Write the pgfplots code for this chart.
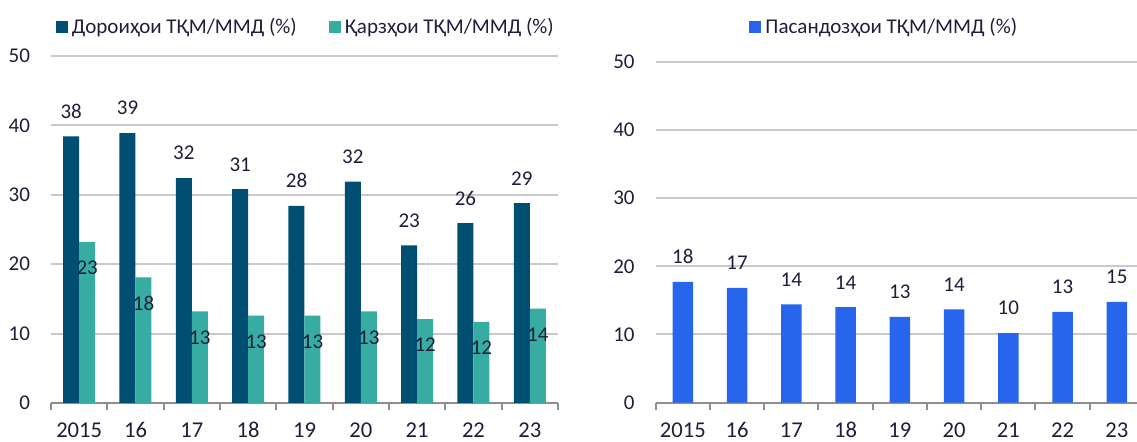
\documentclass[border=0pt]{standalone}
\usepackage{fontspec}
\setmainfont{Carlito}
\usepackage{pgfplots}
\pgfplotsset{compat=1.18}

\definecolor{cDor}{HTML}{004F72}
\definecolor{cQar}{HTML}{37ACA2}
\definecolor{cPas}{HTML}{2766EC}
\definecolor{cTxt}{HTML}{1E1E3C}
\definecolor{cGrid}{HTML}{C9C9C9}
\definecolor{cAx}{HTML}{8E8E8E}

\pgfplotsset{
  /pgf/number format/assume math mode=true,
  sq/.style={legend image code/.code={\fill[##1] (0pt,-3pt) rectangle (6pt,3pt);}},
  base/.style={
    scale only axis, ybar, ymin=0, ymax=50, ytick={0,10,...,50},
    xmin=-0.5, xtick={0,...,8}, xticklabels={2015,16,17,18,19,20,21,22,23},
    minor xtick={-0.5,0.5,...,8.5},
    axis x line*=bottom, axis y line*=left,
    y axis line style={draw=none},
    x axis line style={cAx, line width=1pt},
    major tick length=0pt, minor tick length=3.5pt, tick align=outside,
    minor tick style={cAx, line width=1pt},
    ymajorgrids, major grid style={cGrid, line width=1pt},
    yticklabel style={font=\fontsize{10.5}{12}\selectfont, text=cTxt, xshift=-7pt},
    xticklabel style={font=\fontsize{11.3}{13}\selectfont, text=cTxt, anchor=base, inner sep=0pt, yshift=-17.5pt},
    nodes near coords={\pgfmathprintnumber[fixed,precision=0]{\pgfplotspointmeta}},
    every node near coord/.append style={font=\fontsize{10.5}{12}\selectfont, text=cTxt},
    legend style={draw=none, fill=none, inner sep=0pt, font=\fontsize{10.5}{12}\selectfont, text=cTxt},
    legend cell align=left,
  }
}

\begin{document}
\begin{tikzpicture}
\useasboundingbox (0,0) rectangle (568.5pt,-221pt);

% left panel
\begin{axis}[
  base, at={(25.5pt,-201.5pt)}, anchor=south west,
  width=253.5pt, height=173.5pt, xmax=8.5,
  bar width=8pt, ybar=0pt,
  legend columns=2,
  legend style={at={(0.009,1)}, anchor=west, yshift=14.5pt,
    /tikz/every even column/.append style={column sep=14pt}},
]
\addplot[fill=cDor, draw=none, sq, every node near coord/.append style={anchor=south, yshift=5.5pt}]
  coordinates {(0,38.4) (1,38.9) (2,32.4) (3,30.8) (4,28.4) (5,31.9) (6,22.7) (7,25.9) (8,28.8)};
\addlegendentry{Дороиҳои ТҚМ/ММД (\%)}
\addplot[fill=cQar, draw=none, sq, every node near coord/.append style={anchor=north, yshift=-6pt}]
  coordinates {(0,23.2) (1,18.1) (2,13.2) (3,12.6) (4,12.6) (5,13.2) (6,12.1) (7,11.7) (8,13.6)};
\addlegendentry{Қарзҳои ТҚМ/ММД (\%)}
\end{axis}

% right panel
\begin{axis}[
  base, at={(327.85pt,-201.35pt)}, anchor=south west,
  width=240.65pt, height=170.5pt, xmax=8.372,
  bar width=10.3pt,
  legend style={at={(0.194,1)}, anchor=west, yshift=17.35pt},
]
\addplot[fill=cPas, draw=none, sq, every node near coord/.append style={anchor=south, yshift=5.5pt}]
  coordinates {(0,17.7) (1,16.85) (2,14.4) (3,14.0) (4,12.6) (5,13.7) (6,10.2) (7,13.3) (8,14.8)};
\addlegendentry{Пасандозҳои ТҚМ/ММД (\%)}
\end{axis}
\end{tikzpicture}
\end{document}
